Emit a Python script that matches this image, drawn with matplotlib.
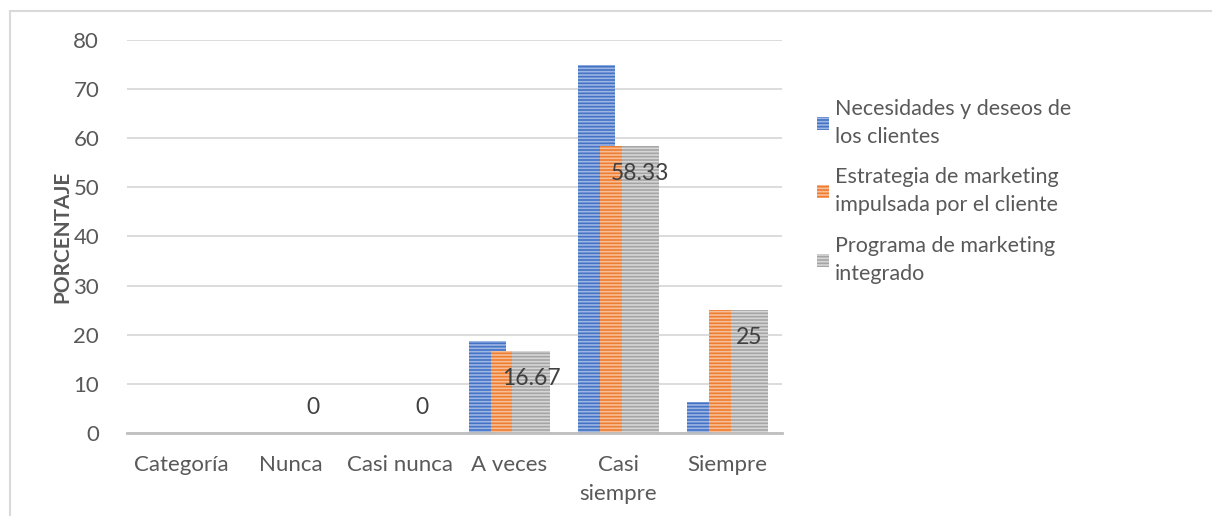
import numpy as np
import matplotlib.pyplot as plt

categories = ["Categoría", "Nunca", "Casi nunca", "A veces", "Casi\nsiempre", "Siempre"]
series_names = ["Necesidades y deseos de\nlos clientes",
                "Estrategia de marketing\nimpulsada por el cliente",
                "Programa de marketing\nintegrado"]
necesidades = [np.nan, 0, 0, 18.75, 75, 6.25]
estrategia = [np.nan, 0, 0, 16.67, 58.33, 25]
programa = [np.nan, 0, 0, 16.67, 58.33, 25]
label_text = ["", "0", "0", "16.67", "58.33", "25"]

colors = ["#4472C4", "#ED7D31", "#A5A5A5"]
stripe = ["#9DB5E3", "#F7BE98", "#D6D6D6"]

plt.rcParams['font.family'] = ['Lato', 'DejaVu Sans']
plt.rcParams['hatch.linewidth'] = 1.2

fig = plt.figure(figsize=(12.12, 5.16), dpi=100)
ax = fig.add_axes([0.1048, 0.1609, 0.5405, 0.7616])

x = np.arange(len(categories))
width = 0.34
offsets = [-0.2, 0.0, 0.2]
all_vals = [necesidades, estrategia, programa]
for vals, off, c, s, name in zip(all_vals, offsets, colors, stripe, series_names):
    ax.bar(x + off, vals, width, color=c, edgecolor=s, hatch='-----',
           linewidth=0, label=name, zorder=2)

# data labels for the last series (inside end)
for xi, v, t in zip(x, programa, label_text):
    if not t:
        continue
    if v > 0:
        ax.text(xi + 0.2, v - 5.6, t, ha='center', va='center', fontsize=16.5, color='#404040', zorder=3)
    else:
        ax.text(xi + 0.2, 5.1, t, ha='center', va='center', fontsize=16.5, color='#404040', zorder=3)

ax.set_xlim(-0.5, len(categories) - 0.5)
ax.set_ylim(0, 80)
ax.set_yticks(range(0, 81, 10))
ax.set_xticks(x)
ax.set_xticklabels(categories, linespacing=1.55)
ax.yaxis.grid(True, color='#D9D9D9', linewidth=1.3, zorder=0)
ax.set_axisbelow(True)
for sp in ['top', 'right', 'left']:
    ax.spines[sp].set_visible(False)
ax.spines['bottom'].set_color('#BFBFBF')
ax.spines['bottom'].set_linewidth(2)
ax.tick_params(axis='both', length=0, labelsize=16, labelcolor='#595959')
ax.tick_params(axis='y', pad=20)
ax.tick_params(axis='x', pad=16)
ax.set_ylabel("PORCENTAJE", fontsize=15, fontweight='bold', color='#595959', labelpad=1)

leg = fig.legend(loc='upper left', bbox_to_anchor=(0.658, 0.846), frameon=False,
                 fontsize=15.5, labelcolor='#595959', handlelength=0.55, handleheight=0.55,
                 handletextpad=0.3, labelspacing=0.95)
for t in leg.get_texts():
    t.set_linespacing(1.5)

# chart border
fig.patches.append(plt.Rectangle((0.008, -0.1), 1.1, 1.079, transform=fig.transFigure,
                                 fill=False, edgecolor='#D9D9D9', linewidth=1.5))

fig.savefig("out.png", dpi=100)
